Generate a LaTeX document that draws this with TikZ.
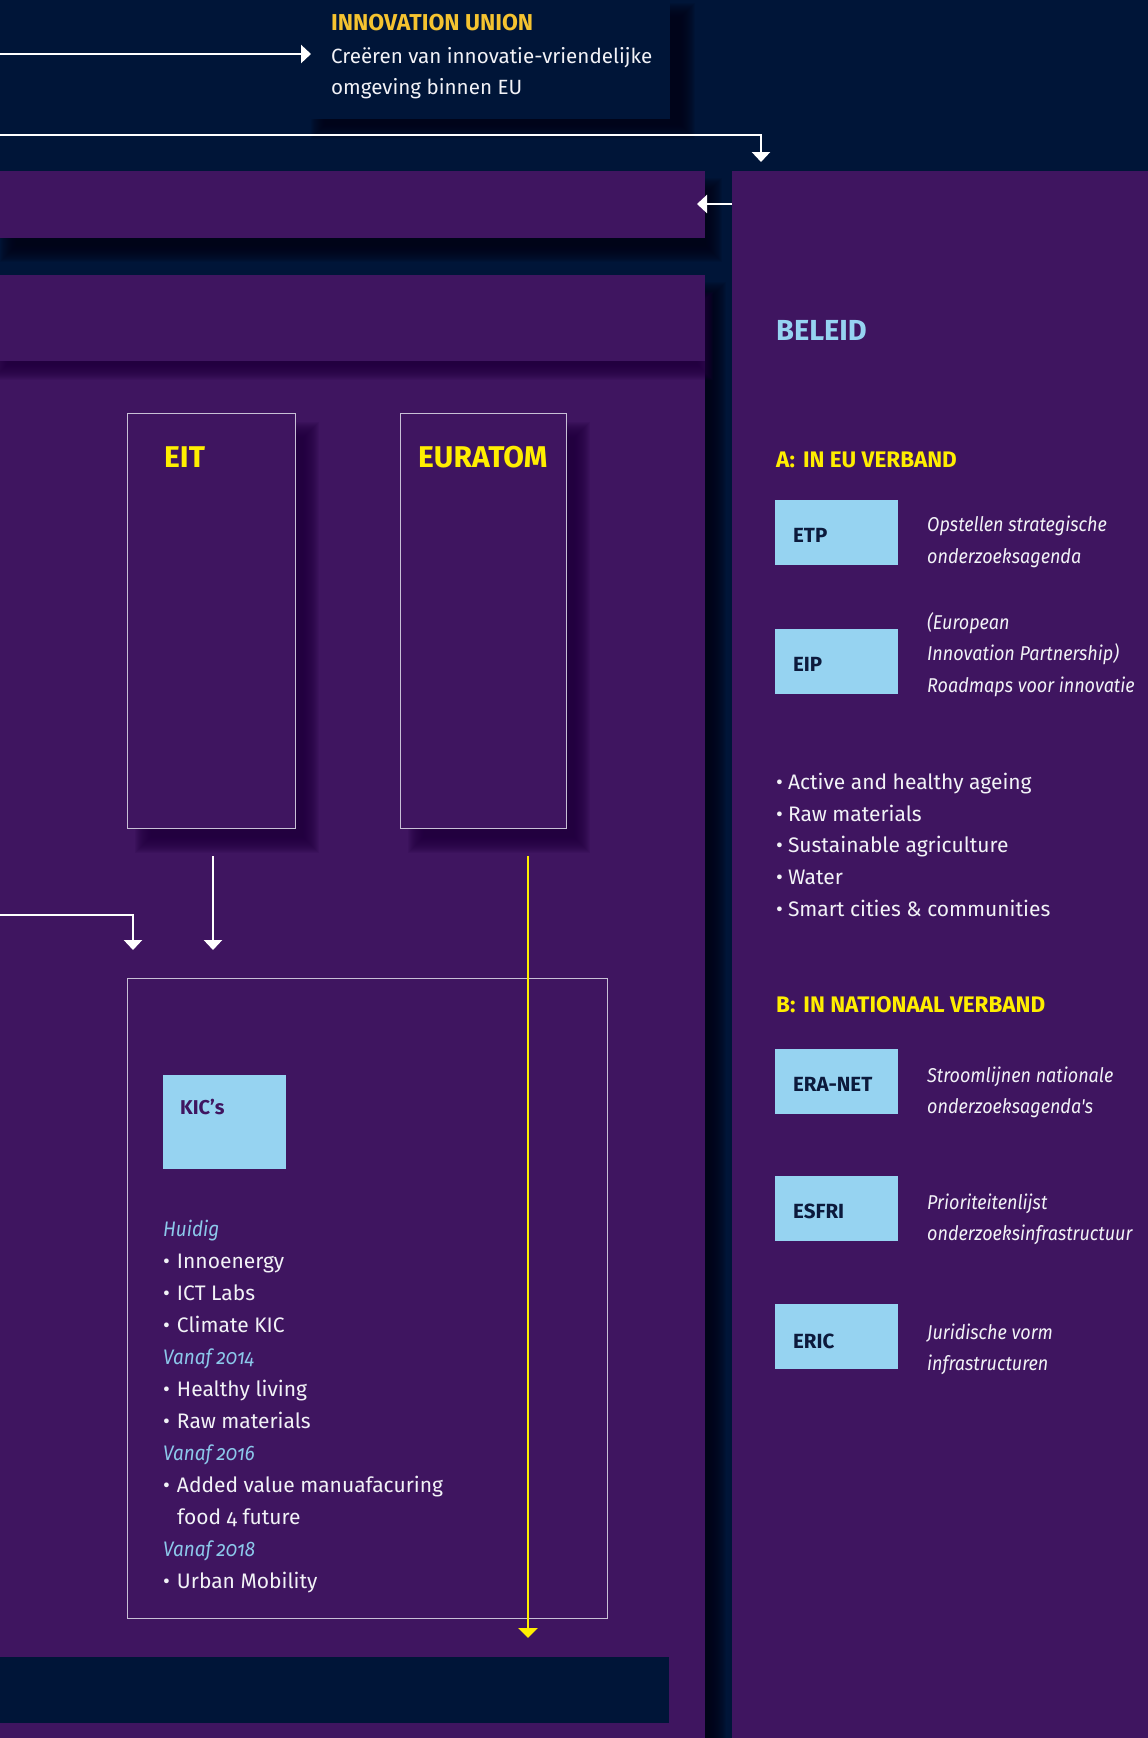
\documentclass[tikz,border=0pt]{standalone}
\usepackage{fontspec}
\setmainfont{Fira Sans}[Numbers=OldStyle]
\newfontfamily\narrowfont{Fira Sans}[Numbers=OldStyle, FakeStretch=0.9]
\usetikzlibrary{arrows.meta}
\definecolor{navy}{HTML}{001538}
\definecolor{plum}{HTML}{3F1560}
\definecolor{plumshadow}{HTML}{22003F}
\definecolor{navyshadow}{HTML}{000418}
\definecolor{sky}{HTML}{96D3F1}
\definecolor{skytext}{HTML}{8CC8EA}
\definecolor{gold}{HTML}{F5C330}
\definecolor{yel}{HTML}{FFEE00}
\definecolor{boxtext}{HTML}{0C1A3C}
\definecolor{framecol}{HTML}{C8C0D6}
\definecolor{offwhite}{HTML}{F2F2F7}
\newcommand\myfs[1]{\fontsize{#1}{#1}\selectfont}
\newcommand\softshadow[6]{%
  \pgfmathtruncatemacro\nlayers{2*#6}%
  \foreach \k in {0,...,\nlayers}{%
    \fill[#1,opacity=0.11] ({#2-#6+\k},{#3-#6+\k}) rectangle ({#4+#6-\k},{#5+#6-\k});}}
\tikzset{
  txt/.style={anchor=base west, inner sep=0pt, text=offwhite, font=\myfs{21}},
  desc/.style={anchor=base west, inner sep=0pt, text=offwhite, font=\narrowfont\itshape\myfs{20}},
  sub/.style={anchor=base west, inner sep=0pt, text=skytext, font=\narrowfont\itshape\myfs{21}},
  heady/.style={anchor=base west, inner sep=0pt, text=yel, font=\bfseries\myfs{22.5}},
  bigy/.style={anchor=base west, inner sep=0pt, text=yel, font=\bfseries\myfs{30}},
  boxlbl/.style={anchor=base west, inner sep=0pt, text=boxtext, font=\bfseries\myfs{20.5}},
  skybox/.style={anchor=north west, fill=sky, draw=none, inner sep=0pt, minimum width=123pt, minimum height=65pt},
  framebox/.style={anchor=north west, draw=framecol, line width=1.2pt, fill=plum, inner sep=0pt},
  panel/.style={anchor=north west, inner sep=0pt, draw=none},
  warr/.style={draw=white, line width=2.6pt, -{Triangle[length=10pt,width=18pt]}},
  yarr/.style={draw=yel, line width=2.4pt, -{Triangle[length=10pt,width=19pt]}},
}
\begin{document}
\begin{tikzpicture}[x=1pt,y=-1pt]
\useasboundingbox (0,0) rectangle (1148,1738);
\fill[navy] (0,0) rectangle (1148,1738);

% ---------- top box: Innovation Union
\softshadow{navyshadow}{318}{10}{688}{132}{7}
\node[panel, fill=navy, minimum width=370pt, minimum height=119pt] (iubox) at (300,0) {};
\node[anchor=base west, inner sep=0pt, text=gold, font=\bfseries\myfs{23}] (iutitle) at (331,30) {INNOVATION UNION};
\node[txt, font=\myfs{20.6}] (iu1) at (331,63) {Creëren van innovatie-vriendelijke};
\node[txt, font=\myfs{20.6}] (iu2) at (331,94) {omgeving binnen EU};

% ---------- band 1
\softshadow{navyshadow}{8}{186}{714}{254}{8}
\node[panel, fill=plum, minimum width=705pt, minimum height=67pt] (band1) at (0,171) {};

% ---------- left main panel
\softshadow{navyshadow}{12}{290}{718}{1760}{8}
% ---------- right panel
\node[panel, fill=plum, minimum width=416pt, minimum height=1567pt] (right) at (732,171) {};
\node[panel, fill=plum, minimum width=705pt, minimum height=1463pt] (left) at (0,275) {};

% ---------- band 2 (header of left panel)
\softshadow{plumshadow}{0}{300}{705}{372}{8}
\node[panel, fill=plum, minimum width=705pt, minimum height=86pt] (band2) at (0,275) {};

% ---------- EIT / EURATOM
\softshadow{plumshadow}{143}{430}{311}{845}{8}
\softshadow{plumshadow}{416}{430}{582}{845}{8}
\node[framebox, minimum width=168pt, minimum height=415pt] (eit) at (127,413) {};
\node[framebox, minimum width=166pt, minimum height=415pt] (euratom) at (400,413) {};
\node[bigy] (eitt) at (164,467) {EIT};
\node[bigy] (eurt) at (418,467) {EURATOM};

% ---------- KIC box
\node[framebox, minimum width=480pt, minimum height=640pt] (kic) at (127,978) {};
\node[panel, fill=sky, minimum width=123pt, minimum height=94pt] (kicbox) at (163,1075) {};
\node[anchor=base west, inner sep=0pt, text=plum, font=\bfseries\myfs{20}] (kict) at (180,1114) {KIC’s};
\node[sub] (k1) at (163,1236) {Huidig};
\node[txt] (k2) at (163,1268) {•\hspace{7pt}Innoenergy};
\node[txt] (k3) at (163,1300) {•\hspace{7pt}ICT Labs};
\node[txt] (k4) at (163,1332) {•\hspace{7pt}Climate KIC};
\node[sub] (k5) at (163,1364) {Vanaf 2014};
\node[txt] (k6) at (163,1396) {•\hspace{7pt}Healthy living};
\node[txt] (k7) at (163,1428) {•\hspace{7pt}Raw materials};
\node[sub] (k8) at (163,1460) {Vanaf 2016};
\node[txt] (k9) at (163,1492) {•\hspace{7pt}Added value manuafacuring};
\node[txt] (k10) at (177,1524) {food 4 future};
\node[sub] (k11) at (163,1556) {Vanaf 2018};
\node[txt] (k12) at (163,1588) {•\hspace{7pt}Urban Mobility};

% ---------- bottom navy band
\node[panel, fill=navy, minimum width=669pt, minimum height=66pt] (bottom) at (0,1657) {};

% ---------- right panel content
\node[anchor=base west, inner sep=0pt, text=sky, font=\bfseries\myfs{29}] (beleid) at (776,340) {BELEID};
\node[heady] (ha) at (776,467) {A:\hspace{8pt}IN EU VERBAND};
\node[skybox] (etp) at (775,500) {};
\node[boxlbl] (etpt) at (793,542) {ETP};
\node[desc] (etpd1) at (927,531) {Opstellen strategische};
\node[desc] (etpd2) at (927,563) {onderzoeksagenda};
\node[skybox] (eip) at (775,629) {};
\node[boxlbl] (eipt) at (793,671) {EIP};
\node[desc] (eipd1) at (927,629) {(European};
\node[desc] (eipd2) at (927,660) {Innovation Partnership)};
\node[desc] (eipd3) at (927,692) {Roadmaps voor innovatie};
\node[txt] (r1) at (776,789) {•\hspace{5pt}Active and healthy ageing};
\node[txt] (r2) at (776,821) {•\hspace{5pt}Raw materials};
\node[txt] (r3) at (776,852) {•\hspace{5pt}Sustainable agriculture};
\node[txt] (r4) at (776,884) {•\hspace{5pt}Water};
\node[txt] (r5) at (776,916) {•\hspace{5pt}Smart cities \& communities};
\node[heady] (hb) at (776,1012) {B:\hspace{8pt}IN NATIONAAL VERBAND};
\node[skybox] (eranet) at (775,1049) {};
\node[boxlbl] (eranett) at (793,1091) {ERA-NET};
\node[desc] (eranetd1) at (927,1082) {Stroomlijnen nationale};
\node[desc] (eranetd2) at (927,1113) {onderzoeksagenda's};
\node[skybox] (esfri) at (775,1176) {};
\node[boxlbl] (esfrit) at (793,1218) {ESFRI};
\node[desc] (esfrid1) at (927,1209) {Prioriteitenlijst};
\node[desc] (esfrid2) at (927,1240) {onderzoeksinfrastructuur};
\node[skybox] (eric) at (775,1304) {};
\node[boxlbl] (erict) at (793,1348) {ERIC};
\node[desc] (ericd1) at (927,1339) {Juridische vorm};
\node[desc] (ericd2) at (927,1370) {infrastructuren};

% ---------- connectors
\coordinate (a1s) at (0,54);
\coordinate (a1e) at (311,54);
\draw[warr] (a1s) -- (a1e);
\coordinate (a2s) at (0,135);
\coordinate (a2e) at (761,162);
\draw[warr] (a2s) -| (a2e);
\coordinate (a3e) at (697,204);
\draw[warr] (right.west |- a3e) -- (a3e);
\coordinate (a4s) at (213,856);
\coordinate (a4e) at (213,950);
\draw[warr] (a4s) -- (a4e);
\coordinate (a5s) at (0,915);
\coordinate (a5e) at (133,950);
\draw[warr] (a5s) -| (a5e);
\coordinate (a6s) at (528,856);
\coordinate (a6e) at (528,1638);
\draw[yarr] (a6s) -- (a6e);
\end{tikzpicture}
\end{document}
